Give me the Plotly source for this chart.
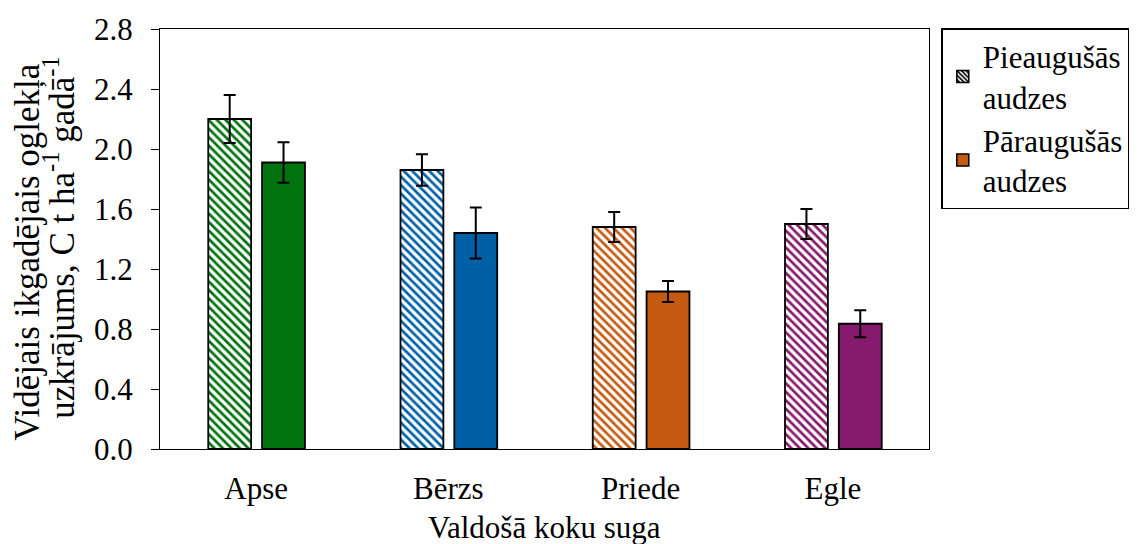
import plotly.graph_objects as go

# Dominant tree species and mean annual carbon accumulation (C t/ha/year)
species = ["Apse", "Bērzs", "Priede", "Egle"]
mature_vals = [2.20, 1.86, 1.48, 1.50]
mature_err = [0.16, 0.105, 0.10, 0.10]
overmature_vals = [1.91, 1.44, 1.05, 0.835]
overmature_err = [0.135, 0.17, 0.07, 0.09]
species_colors = ["#00720E", "#0060A6", "#C55A11", "#861A6C"]

series_names = ["Pieaugušās<br>audzes", "Pāraugušās<br>audzes"]
y_title_lines = ["Vidējais ikgadējais oglekļa",
                 "uzkrājums, C t ha<sup>-1</sup> gadā<sup>-1</sup>"]
x_title = "Valdošā koku suga"

FONT = "Liberation Serif"
FS = 31

fig = go.Figure()

err_style = dict(type="data", visible=True, color="black", thickness=2, width=6)

# Mature stands: hatched bars in each species colour
fig.add_trace(go.Bar(
    x=species, y=mature_vals, name=series_names[0], showlegend=False,
    width=0.223, offset=-0.249,
    marker=dict(color="white", line=dict(color="black", width=1.8),
                pattern=dict(shape="\\", fgcolor=species_colors, bgcolor="white",
                             size=6, solidity=0.45, fillmode="replace")),
    error_y=dict(array=mature_err, **err_style),
))

# Over-mature stands: solid bars
fig.add_trace(go.Bar(
    x=species, y=overmature_vals, name=series_names[1], showlegend=False,
    width=0.223, offset=0.031,
    marker=dict(color=species_colors, line=dict(color="black", width=1.8)),
    error_y=dict(array=overmature_err, **err_style),
))

# Legend entries
fig.add_trace(go.Bar(
    x=[species[0]], y=[None], name=series_names[0], width=0.2, offset=0,
    marker=dict(color="white", line=dict(color="black", width=1.5),
                pattern=dict(shape="\\", fgcolor="black", bgcolor="white",
                             size=4, solidity=0.5, fillmode="replace")),
))
fig.add_trace(go.Bar(
    x=[species[0]], y=[None], name=series_names[1], width=0.2, offset=0,
    marker=dict(color=species_colors[2], line=dict(color="black", width=1.5)),
))

fig.update_layout(
    width=1141, height=544,
    margin=dict(l=160, r=211, t=26, b=95),
    paper_bgcolor="white", plot_bgcolor="white",
    font=dict(family=FONT, size=FS, color="black"),
    barmode="overlay",
    legend=dict(
        x=1.016, xanchor="left", y=1.002, yanchor="top",
        bordercolor="black", borderwidth=1.5, bgcolor="white",
        font=dict(family=FONT, size=FS, color="black"),
        entrywidth=190, tracegroupgap=2,
    ),
    xaxis=dict(
        showline=True, linecolor="black", linewidth=1.3, mirror=True,
        ticks="", showgrid=False, ticklabelstandoff=12,
        tickfont=dict(family=FONT, size=FS),
    ),
    yaxis=dict(
        range=[0, 2.8], dtick=0.4, tick0=0, tickformat=".1f",
        showline=True, linecolor="black", linewidth=1.3, mirror=True,
        ticks="outside", ticklen=8, tickwidth=1.3, tickcolor="black",
        showgrid=False, zeroline=False, ticklabelstandoff=12,
        tickfont=dict(family=FONT, size=FS),
    ),
    annotations=[
        dict(text=y_title_lines[0], xref="paper", yref="paper", x=-0.1727, y=0.468,
             xanchor="center", yanchor="middle", textangle=-90, showarrow=False,
             font=dict(family=FONT, size=35)),
        dict(text=y_title_lines[1], xref="paper", yref="paper", x=-0.1299, y=0.503,
             xanchor="center", yanchor="middle", textangle=-90, showarrow=False,
             font=dict(family=FONT, size=35)),
        dict(text=x_title, xref="paper", yref="paper",
             x=0.5, y=-0.187, xanchor="center", yanchor="middle", showarrow=False,
             font=dict(family=FONT, size=FS)),
    ],
)

fig.write_html("out.html")
